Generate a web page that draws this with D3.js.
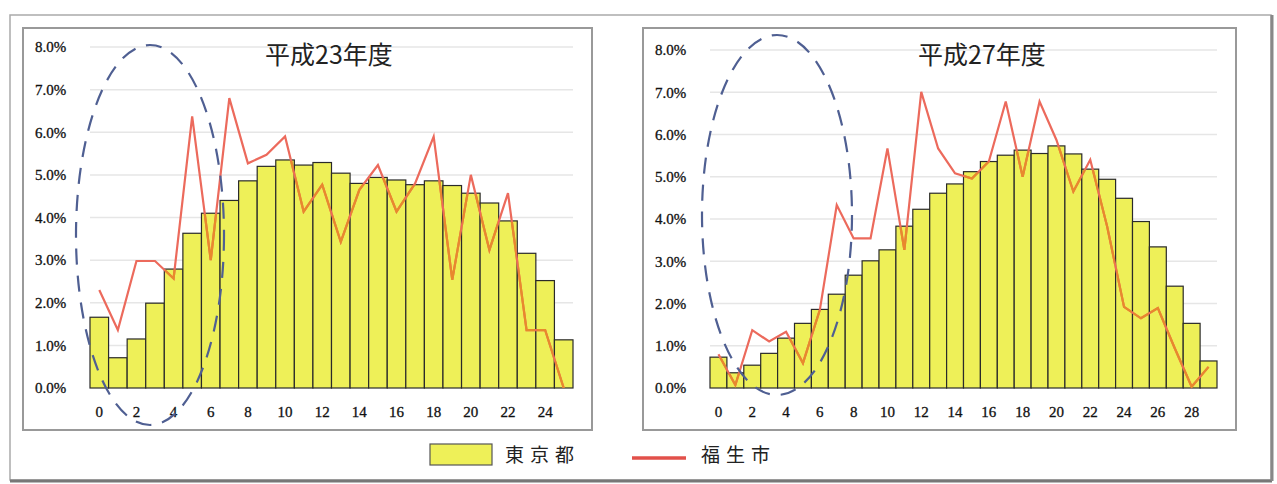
<!DOCTYPE html>
<html>
<head>
<meta charset="utf-8">
<script src="https://cdn.jsdelivr.net/npm/d3@7"></script>
<style>
  body { margin: 0; background: #fff; }
  svg { display: block; }
</style>
</head>
<body>
<svg id="chart" width="1277" height="484"></svg>
<script>
// 平成23年度
const ages23 = d3.range(0, 26);
const tokyo23 = [1.66, 0.71, 1.15, 1.99, 2.79, 3.63, 4.10, 4.40, 4.86, 5.20, 5.35, 5.23, 5.29,
                 5.04, 4.80, 4.94, 4.88, 4.77, 4.86, 4.75, 4.57, 4.34, 3.92, 3.16, 2.52, 1.13];
const fussa23 = [2.30, 1.36, 2.98, 2.98, 2.57, 6.37, 3.00, 6.80, 5.27, 5.47, 5.90, 4.14, 4.77,
                 3.43, 4.65, 5.23, 4.14, 4.80, 5.90, 2.54, 5.00, 3.24, 4.57, 1.36, 1.36, 0.00];

// 平成27年度
const ages27 = d3.range(0, 30);
const tokyo27 = [0.73, 0.36, 0.54, 0.82, 1.18, 1.53, 1.86, 2.22, 2.67, 3.01, 3.27, 3.83, 4.23,
                 4.61, 4.83, 5.12, 5.36, 5.51, 5.63, 5.55, 5.73, 5.54, 5.18, 4.94, 4.49, 3.94,
                 3.34, 2.41, 1.53, 0.64];
const fussa27 = [0.80, 0.07, 1.37, 1.10, 1.33, 0.59, 1.85, 4.33, 3.54, 3.54, 5.67, 3.27, 7.01,
                 5.67, 5.08, 4.96, 5.36, 6.78, 5.00, 6.78, 5.87, 4.65, 5.40, 3.82, 1.92, 1.65,
                 1.89, 0.94, 0.03, 0.50];

const yTicks = [0, 1, 2, 3, 4, 5, 6, 7, 8];
const titles = ["平成23年度", "平成27年度"];
const legendNames = ["東京都", "福生市"];

const barFill = "#eef058";
const lineColor = "#ec6a5c";
const lineOnBar = "#e8892c";
const serif = "'Liberation Serif', 'DejaVu Serif', serif";
const cjk = "'Noto Sans CJK JP', sans-serif";

const svg = d3.select("#chart");
const defs = svg.append("defs");

// outer frame
svg.append("rect")
    .attr("x", 10).attr("y", 15)
    .attr("width", 1261).attr("height", 465)
    .attr("fill", "none")
    .attr("stroke", "#aaa")
    .attr("stroke-width", 1.5);
svg.append("line")
    .attr("x1", 10).attr("x2", 1272)
    .attr("y1", 481).attr("y2", 481)
    .attr("stroke", "#777").attr("stroke-width", 3);
svg.append("line")
    .attr("x1", 1272).attr("x2", 1272)
    .attr("y1", 15).attr("y2", 481)
    .attr("stroke", "#888").attr("stroke-width", 3);

function drawPanel(p) {
    const g = svg.append("g");

    g.append("rect")
        .attr("x", p.box[0]).attr("y", p.box[1])
        .attr("width", p.box[2]).attr("height", p.box[3])
        .attr("fill", "#fff")
        .attr("stroke", "#999")
        .attr("stroke-width", 2);

    const x = d3.scaleBand()
        .domain(p.ages)
        .range(p.xRange)
        .paddingInner(0);

    const y = d3.scaleLinear()
        .domain([0, 8])
        .range(p.yRange);

    // grid
    g.selectAll(".grid")
        .data(yTicks.slice(1))
        .join("line")
        .attr("x1", p.xRange[0]).attr("x2", p.xRange[1])
        .attr("y1", d => y(d)).attr("y2", d => y(d))
        .attr("stroke", "#e6e6e6")
        .attr("stroke-width", 1.5);

    // y labels
    g.selectAll(".ylab")
        .data(yTicks)
        .join("text")
        .attr("x", p.labelX)
        .attr("y", d => y(d))
        .attr("dy", "0.35em")
        .style("font-family", serif)
        .style("font-size", "15px")
        .attr("fill", "#111")
        .attr("stroke", "#111")
        .attr("stroke-width", 0.3)
        .text(d => d.toFixed(1) + "%");

    // bars
    g.selectAll(".bar")
        .data(p.tokyo)
        .join("rect")
        .attr("x", (d, i) => x(p.ages[i]))
        .attr("y", d => y(d))
        .attr("width", x.bandwidth())
        .attr("height", d => y(0) - y(d))
        .attr("fill", barFill)
        .attr("stroke", "#2a2a2a")
        .attr("stroke-width", 1.2);

    // clip of the bar area, so the line turns orange over the yellow
    const clip = defs.append("clipPath").attr("id", p.id);
    clip.selectAll("rect")
        .data(p.tokyo)
        .join("rect")
        .attr("x", (d, i) => x(p.ages[i]) + 1)
        .attr("y", d => y(d) + 1)
        .attr("width", x.bandwidth() - 2)
        .attr("height", d => Math.max(0, y(0) - y(d) - 1));

    // x labels
    g.selectAll(".xlab")
        .data(p.ages.filter(a => a % 2 === 0))
        .join("text")
        .attr("x", d => x(d) + x.bandwidth() / 2)
        .attr("y", 412)
        .attr("dy", "0.35em")
        .attr("text-anchor", "middle")
        .style("font-family", serif)
        .style("font-size", "15px")
        .attr("fill", "#111")
        .attr("stroke", "#111")
        .attr("stroke-width", 0.3)
        .text(d => d);

    // line
    const line = d3.line()
        .x((d, i) => x(p.ages[i]) + x.bandwidth() / 2)
        .y(d => y(d));

    g.append("path")
        .datum(p.fussa)
        .attr("d", line)
        .attr("fill", "none")
        .attr("stroke", lineColor)
        .attr("stroke-width", 2.2);

    g.append("path")
        .datum(p.fussa)
        .attr("d", line)
        .attr("fill", "none")
        .attr("stroke", lineOnBar)
        .attr("stroke-width", 2.2)
        .attr("clip-path", "url(#" + p.id + ")");

    // title
    g.append("text")
        .attr("x", p.titleX)
        .attr("y", 64)
        .style("font-family", cjk)
        .style("font-size", "25px")
        .attr("fill", "#222")
        .text(p.title);

    // dashed ellipse
    g.append("ellipse")
        .attr("cx", p.ellipse[0]).attr("cy", p.ellipse[1])
        .attr("rx", p.ellipse[2]).attr("ry", p.ellipse[3])
        .attr("fill", "none")
        .attr("stroke", "#4f5f92")
        .attr("stroke-width", 2.2)
        .attr("stroke-dasharray", "16 11");
}

drawPanel({
    id: "clip23",
    box: [23, 28, 569, 402],
    ages: ages23, tokyo: tokyo23, fussa: fussa23,
    xRange: [90, 573], yRange: [388, 47],
    labelX: 35, titleX: 265, title: titles[0],
    ellipse: [150, 235, 74, 190]
});

drawPanel({
    id: "clip27",
    box: [643, 28, 593, 402],
    ages: ages27, tokyo: tokyo27, fussa: fussa27,
    xRange: [710, 1217], yRange: [388, 50],
    labelX: 655, titleX: 918, title: titles[1],
    ellipse: [777, 215, 75, 180]
});

// legend
svg.append("rect")
    .attr("x", 430).attr("y", 444)
    .attr("width", 62).attr("height", 21)
    .attr("fill", barFill)
    .attr("stroke", "#555")
    .attr("stroke-width", 1.2);

svg.append("text")
    .attr("x", 505).attr("y", 462)
    .style("font-family", cjk)
    .style("font-size", "19px")
    .style("letter-spacing", "6px")
    .attr("fill", "#222")
    .text(legendNames[0]);

svg.append("line")
    .attr("x1", 632).attr("x2", 686)
    .attr("y1", 458).attr("y2", 458)
    .attr("stroke", "#e2504a")
    .attr("stroke-width", 3.5);

svg.append("text")
    .attr("x", 701).attr("y", 462)
    .style("font-family", cjk)
    .style("font-size", "19px")
    .style("letter-spacing", "6px")
    .attr("fill", "#222")
    .text(legendNames[1]);
</script>
</body>
</html>
